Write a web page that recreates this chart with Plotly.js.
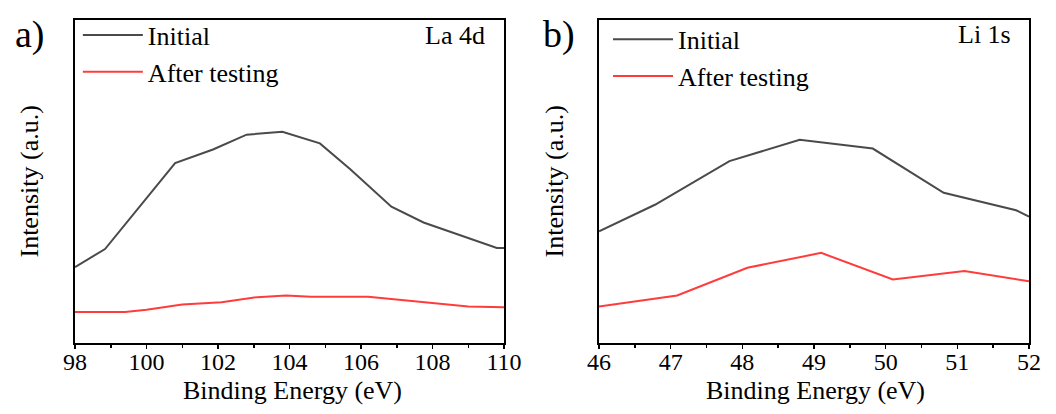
<!DOCTYPE html>
<html>
<head>
<meta charset="utf-8">
<script src="https://cdn.plot.ly/plotly-3.0.1.min.js"></script>
<style>html,body{margin:0;padding:0;background:#fff;}#chart{width:1056px;height:414px;}</style>
</head>
<body>
<div id="chart"></div>
<script>
// Panel a) La 4d
const laInitialX = [98, 98.84, 100.8, 101.86, 102.8, 103.8, 104.85, 105.7, 106.85, 107.75, 109.8, 110];
const laInitialY = [23.5, 29.1, 55.7, 59.9, 64.5, 65.4, 61.8, 53.8, 42.2, 37.3, 29.4, 29.4];
const laAfterX = [98, 99.4, 100.0, 101.0, 102.1, 103.1, 103.9, 104.6, 106.2, 107.75, 109.0, 110];
const laAfterY = [9.6, 9.6, 10.3, 11.9, 12.6, 14.2, 14.7, 14.3, 14.3, 12.6, 11.3, 11.1];
// Panel b) Li 1s
const liInitialX = [46, 46.78, 47.82, 48.8, 49.82, 50.81, 51.82, 52];
const liInitialY = [34.6, 42.8, 56.3, 62.9, 60.2, 46.5, 41.1, 39.1];
const liAfterX = [46, 47.09, 48.07, 49.1, 50.1, 51.1, 52];
const liAfterY = [11.3, 14.7, 23.3, 27.9, 19.7, 22.3, 19.1];

const seriesNames = ["Initial", "After testing"];
const panelLabels = ["a)", "b)"];
const peakLabels = ["La 4d", "Li 1s"];
const xTitle = "Binding Energy (eV)";
const yTitle = "Intensity (a.u.)";

const GRAY = "#4a4a4a", RED = "#ff3c3c";
const FONT = "Liberation Serif";
const BLACK = "#000";

const traces = [
  {x: laInitialX, y: laInitialY, name: seriesNames[0], mode: "lines", line: {color: GRAY, width: 2}, xaxis: "x", yaxis: "y", legend: "legend"},
  {x: laAfterX, y: laAfterY, name: seriesNames[1], mode: "lines", line: {color: RED, width: 2}, xaxis: "x", yaxis: "y", legend: "legend"},
  {x: liInitialX, y: liInitialY, name: seriesNames[0], mode: "lines", line: {color: GRAY, width: 2}, xaxis: "x2", yaxis: "y2", legend: "legend2"},
  {x: liAfterX, y: liAfterY, name: seriesNames[1], mode: "lines", line: {color: RED, width: 2}, xaxis: "x2", yaxis: "y2", legend: "legend2"}
];

function xax(domain, range, dtick, anchor) {
  return {
    domain: domain, range: range, dtick: dtick, tick0: range[0], anchor: anchor,
    showgrid: false, zeroline: false, showline: true, mirror: true, linecolor: BLACK, linewidth: 2,
    ticks: "outside", ticklen: 4, tickwidth: 1.5, tickcolor: BLACK,
    minor: {ticks: "outside", ticklen: 2.5, tickwidth: 1.5, tickcolor: BLACK, dtick: dtick / 2, showgrid: false},
    ticklabelstandoff: -8,
    tickfont: {family: FONT, size: 24, color: BLACK}
  };
}
function yax(anchor) {
  return {
    domain: [0, 1], range: [0, 100], anchor: anchor,
    showgrid: false, zeroline: false, showline: true, mirror: true, linecolor: BLACK, linewidth: 2,
    ticks: "", showticklabels: false
  };
}
const legendCommon = {
  font: {family: FONT, size: 26, color: BLACK}, bgcolor: "rgba(0,0,0,0)",
  xanchor: "left", yanchor: "top", itemwidth: 60, tracegroupgap: 0
};
function txt(text, x, y, size, xanchor, extra) {
  return Object.assign({text: text, xref: "paper", yref: "paper", x: x, y: y, xanchor: xanchor, yanchor: "middle",
    showarrow: false, font: {family: FONT, size: size, color: BLACK}}, extra || {});
}

const layout = {
  width: 1056, height: 414,
  margin: {l: 75, r: 27, t: 16, b: 71},
  paper_bgcolor: "#fff", plot_bgcolor: "#fff",
  font: {family: FONT, size: 24, color: BLACK},
  xaxis: xax([0, 0.4497], [98, 110], 2, "y"),
  yaxis: yax("x"),
  xaxis2: xax([0.5493, 1], [46, 52], 1, "y2"),
  yaxis2: yax("x2"),
  legend: Object.assign({x: 0.003, y: 1.026}, legendCommon),
  legend2: Object.assign({x: 0.5587, y: 1.013}, legendCommon),
  annotations: [
    txt(panelLabels[0], -0.0655, 0.955, 38, "left"),
    txt(panelLabels[1], 0.4885, 0.955, 38, "left"),
    txt(peakLabels[0], 0.4319, 0.953, 26, "right"),
    txt(peakLabels[1], 0.983, 0.955, 26, "right"),
    txt(yTitle, -0.0482, 0.5, 26, "center", {textangle: -90}),
    txt(yTitle, 0.5031, 0.5, 26, "center", {textangle: -90}),
    txt(xTitle, 0.228, -0.148, 26, "center"),
    txt(xTitle, 0.7757, -0.148, 26, "center")
  ],
  showlegend: true
};

Plotly.newPlot("chart", traces, layout, {displayModeBar: false, staticPlot: true});
</script>
</body>
</html>
